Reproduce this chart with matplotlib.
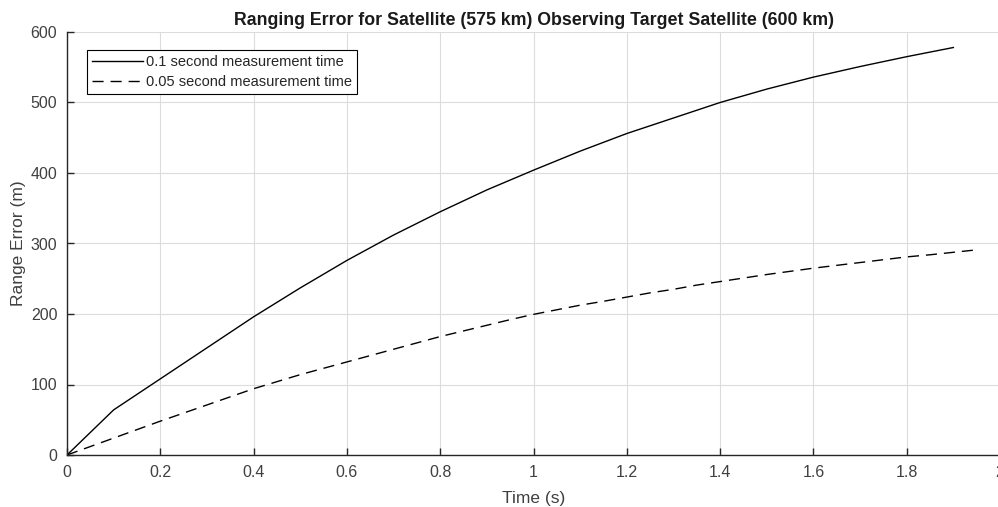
import matplotlib
matplotlib.use("Agg")
import matplotlib.pyplot as plt
import numpy as np

# data
t_long = [0.0, 0.1, 0.2, 0.3, 0.4, 0.5, 0.6, 0.7, 0.8, 0.9, 1.0,
          1.1, 1.2, 1.3, 1.4, 1.5, 1.6, 1.7, 1.8, 1.9]
err_long = [0, 64, 108, 152, 196, 237, 276, 312, 345, 376, 404,
            431, 456, 478, 500, 519, 536, 551, 565, 578]

t_short = [0.0, 0.05, 0.1, 0.15, 0.2, 0.25, 0.3, 0.35, 0.4, 0.45, 0.5,
           0.55, 0.6, 0.65, 0.7, 0.75, 0.8, 0.85, 0.9, 0.95, 1.0,
           1.05, 1.1, 1.15, 1.2, 1.25, 1.3, 1.35, 1.4, 1.45, 1.5,
           1.55, 1.6, 1.65, 1.7, 1.75, 1.8, 1.85, 1.9, 1.95]
err_short = [0, 12, 24, 36, 48, 59.5, 71, 82.5, 94, 104, 114,
             123, 132, 141, 150, 159, 168, 176, 184, 192, 199.5,
             206, 212.5, 218, 224, 230, 235, 241, 246, 251, 256,
             260.5, 265, 269, 273, 277, 281, 284, 287.5, 291]

labels = ["0.1 second measurement time", "0.05 second measurement time"]
xticks = [0, 0.2, 0.4, 0.6, 0.8, 1, 1.2, 1.4, 1.6, 1.8, 2]
xticklabels = ["0", "0.2", "0.4", "0.6", "0.8", "1", "1.2", "1.4", "1.6", "1.8", "2"]
yticks = [0, 100, 200, 300, 400, 500, 600]

plt.rcParams['font.family'] = ['Liberation Sans', 'DejaVu Sans']

fig = plt.figure(figsize=(9.98, 5.07), dpi=100)
W, H = 998, 507
# axes box in pixels: left 67, right 1000, top 32, bottom 455
ax = fig.add_axes([67 / W, (H - 455) / H, (1000 - 67) / W, (455 - 32) / H])

ax.plot(t_long, err_long, color='black', lw=1.0, label=labels[0])
ax.plot(t_short, err_short, color='black', lw=1.0, ls=(0, (8, 5)), label=labels[1])

ax.set_xlim(0, 2)
ax.set_ylim(0, 600)
ax.set_xticks(xticks)
ax.set_xticklabels(xticklabels)
ax.set_yticks(yticks)

ax.grid(True, color='#dcdcdc', lw=0.8)
ax.set_axisbelow(True)
for side in ['top', 'right']:
    ax.spines[side].set_visible(False)
for side in ['left', 'bottom']:
    ax.spines[side].set_color('#262626')
    ax.spines[side].set_linewidth(1.0)
ax.tick_params(direction='in', length=5, width=1.0, colors='#262626',
               labelsize=11.5, labelcolor='#404040', pad=7)

ax.set_title("Ranging Error for Satellite (575 km) Observing Target Satellite (600 km)",
             fontsize=12.8, fontweight='bold', color='#1a1a1a', pad=5)
ax.set_xlabel("Time (s)", fontsize=12.5, color='#404040', labelpad=8)
ax.set_ylabel("Range Error (m)", fontsize=12.5, color='#404040', labelpad=3)

leg = ax.legend(loc='upper left', bbox_to_anchor=(20 / 933, 1 - 18 / 423), fontsize=10.5,
                fancybox=False, framealpha=1, edgecolor='black',
                handlelength=3.5, handletextpad=0.2, borderpad=0.35,
                labelspacing=0.4, borderaxespad=0)
leg.get_frame().set_linewidth(0.8)
for txt in leg.get_texts():
    txt.set_color('#262626')

fig.savefig("out.png", dpi=100)
